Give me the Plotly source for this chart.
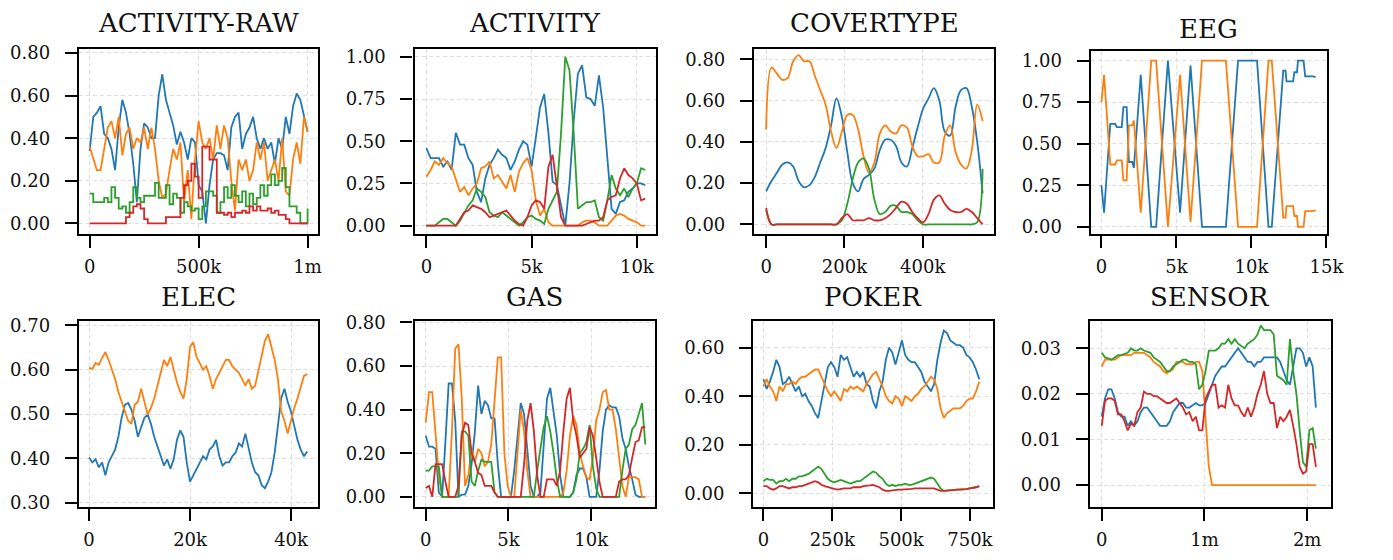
import numpy as np
import plotly.graph_objects as go

# ---------------- data ----------------
BLUE, ORANGE, GREEN, RED = "#1f77b4", "#ff7f0e", "#2ca02c", "#d62728"

titles = ["ACTIVITY-RAW", "ACTIVITY", "COVERTYPE", "EEG", "ELEC", "GAS", "POKER", "SENSOR"]

# ACTIVITY-RAW (x: 0 .. 1m)
actraw_end = 1.0e6
actraw_blue = [0.34, 0.50, 0.52, 0.55, 0.42, 0.40, 0.35, 0.25, 0.45, 0.58, 0.52, 0.42, 0.28, 0.10, 0.35,
               0.47, 0.45, 0.40, 0.40, 0.60, 0.70, 0.58, 0.52, 0.46, 0.37, 0.43, 0.38, 0.30, 0.40, 0.38,
               0.18, 0.15, 0.00, 0.18, 0.30, 0.33, 0.33, 0.32, 0.25, 0.45, 0.50, 0.52, 0.35, 0.42, 0.45,
               0.50, 0.40, 0.35, 0.40, 0.35, 0.38, 0.28, 0.40, 0.35, 0.50, 0.42, 0.55, 0.61, 0.58, 0.50, 0.43]
actraw_orange = [0.36, 0.30, 0.25, 0.25, 0.36, 0.45, 0.48, 0.40, 0.50, 0.32, 0.42, 0.45, 0.35, 0.40, 0.38,
                 0.45, 0.35, 0.45, 0.35, 0.20, 0.12, 0.14, 0.25, 0.35, 0.30, 0.38, 0.10, 0.25, 0.02, 0.30,
                 0.48, 0.38, 0.35, 0.40, 0.30, 0.46, 0.35, 0.46, 0.40, 0.20, 0.06, 0.30, 0.25, 0.30, 0.20,
                 0.25, 0.38, 0.30, 0.38, 0.20, 0.25, 0.30, 0.20, 0.40, 0.15, 0.13, 0.30, 0.38, 0.28, 0.50, 0.43]
actraw_green = [0.14, 0.10, 0.10, 0.10, 0.12, 0.10, 0.17, 0.12, 0.07, 0.08, 0.05, 0.10, 0.17, 0.12, 0.10,
                0.13, 0.13, 0.13, 0.19, 0.12, 0.12, 0.18, 0.09, 0.14, 0.12, 0.05, 0.10, 0.08, 0.06, 0.07,
                0.02, 0.08, 0.15, 0.15, 0.13, 0.05, 0.10, 0.17, 0.12, 0.18, 0.13, 0.10, 0.15, 0.08, 0.14,
                0.09, 0.12, 0.18, 0.13, 0.18, 0.23, 0.18, 0.20, 0.26, 0.17, 0.08, 0.08, 0.05, 0.00, 0.00, 0.07]
actraw_red = [0.00, 0.00, 0.00, 0.00, 0.00, 0.00, 0.00, 0.00, 0.00, 0.00, 0.03, 0.05, 0.08, 0.09, 0.07,
              0.02, 0.00, 0.00, 0.00, 0.00, 0.00, 0.03, 0.03, 0.03, 0.03, 0.12, 0.18, 0.20, 0.28, 0.22,
              0.12, 0.36, 0.36, 0.30, 0.30, 0.05, 0.05, 0.04, 0.05, 0.03, 0.05, 0.05, 0.06, 0.05, 0.08,
              0.06, 0.08, 0.06, 0.06, 0.07, 0.05, 0.06, 0.04, 0.04, 0.02, 0.00, 0.00, 0.00, 0.00, 0.00, 0.00]

# ACTIVITY (x: 0 .. 10.4k)
act_end = 10.4e3
act_blue = [0.46, 0.40, 0.40, 0.40, 0.35, 0.38, 0.33, 0.55, 0.48, 0.48, 0.40, 0.36, 0.20, 0.14, 0.28,
            0.36, 0.40, 0.45, 0.42, 0.40, 0.33, 0.38, 0.45, 0.50, 0.48, 0.35, 0.52, 0.70, 0.78, 0.55,
            0.26, 0.24, 0.12, 0.00, 0.25, 0.62, 0.90, 0.95, 0.76, 0.75, 0.71, 0.89, 0.70, 0.40, 0.10,
            0.07, 0.14, 0.15, 0.20, 0.22, 0.25, 0.25, 0.24]
act_orange = [0.29, 0.33, 0.38, 0.36, 0.40, 0.37, 0.35, 0.27, 0.20, 0.23, 0.18, 0.22, 0.25, 0.34, 0.35,
              0.38, 0.28, 0.30, 0.26, 0.22, 0.30, 0.20, 0.32, 0.37, 0.40, 0.33, 0.15, 0.06, 0.10, 0.02,
              0.00, 0.00, 0.00, 0.00, 0.00, 0.00, 0.00, 0.02, 0.03, 0.03, 0.02, 0.00, 0.00, 0.00, 0.03,
              0.06, 0.07, 0.06, 0.04, 0.03, 0.02, 0.00, 0.00]
act_green = [0.00, 0.00, 0.00, 0.02, 0.04, 0.04, 0.02, 0.00, 0.03, 0.08, 0.12, 0.15, 0.22, 0.20, 0.17,
             0.08, 0.06, 0.05, 0.08, 0.06, 0.04, 0.02, 0.00, 0.02, 0.05, 0.06, 0.04, 0.03, 0.01, 0.10,
             0.15, 0.20, 0.55, 1.00, 0.92, 0.55, 0.10, 0.12, 0.14, 0.14, 0.15, 0.05, 0.03, 0.15, 0.30,
             0.22, 0.18, 0.22, 0.17, 0.22, 0.25, 0.34, 0.33]
act_red = [0.00, 0.00, 0.00, 0.00, 0.00, 0.00, 0.00, 0.00, 0.04, 0.08, 0.09, 0.12, 0.11, 0.10, 0.08,
           0.05, 0.06, 0.07, 0.08, 0.09, 0.06, 0.03, 0.01, 0.00, 0.05, 0.12, 0.15, 0.14, 0.10, 0.35,
           0.42, 0.25, 0.05, 0.00, 0.00, 0.00, 0.00, 0.00, 0.01, 0.02, 0.03, 0.03, 0.05, 0.15, 0.17,
           0.18, 0.28, 0.34, 0.30, 0.28, 0.25, 0.15, 0.16]

# COVERTYPE (x: 0 .. 553k)
cov_end = 553e3
cov_blue = [0.16, 0.21, 0.25, 0.29, 0.30, 0.28, 0.21, 0.18, 0.19, 0.23, 0.30, 0.37, 0.48, 0.61, 0.52,
            0.35, 0.20, 0.16, 0.22, 0.24, 0.27, 0.36, 0.41, 0.41, 0.38, 0.30, 0.28, 0.37, 0.47, 0.56,
            0.61, 0.66, 0.60, 0.45, 0.43, 0.57, 0.65, 0.66, 0.57, 0.40, 0.15]
cov_orange = [0.46, 0.76, 0.73, 0.70, 0.71, 0.79, 0.82, 0.79, 0.79, 0.72, 0.65, 0.58, 0.45, 0.37, 0.45,
              0.53, 0.53, 0.46, 0.33, 0.25, 0.30, 0.44, 0.48, 0.45, 0.44, 0.48, 0.47, 0.38, 0.33, 0.33,
              0.34, 0.30, 0.30, 0.43, 0.48, 0.35, 0.29, 0.27, 0.36, 0.58, 0.50]
cov_green = [0.07, 0.00, 0.00, 0.00, 0.00, 0.00, 0.00, 0.00, 0.00, 0.00, 0.00, 0.00, 0.00, 0.00, 0.02,
             0.10, 0.22, 0.30, 0.32, 0.27, 0.12, 0.05, 0.06, 0.09, 0.09, 0.06, 0.06, 0.05, 0.02, 0.00,
             0.00, 0.00, 0.00, 0.00, 0.00, 0.00, 0.00, 0.00, 0.00, 0.01, 0.27]
cov_red = [0.08, 0.00, 0.00, 0.00, 0.00, 0.00, 0.00, 0.00, 0.00, 0.00, 0.00, 0.00, 0.00, 0.00, 0.03,
           0.05, 0.02, 0.02, 0.02, 0.03, 0.02, 0.02, 0.03, 0.05, 0.08, 0.11, 0.10, 0.06, 0.03, 0.01,
           0.05, 0.12, 0.14, 0.10, 0.07, 0.06, 0.06, 0.075, 0.06, 0.03, 0.00]

# EEG (explicit sample positions)
eeg_x = [0, 175, 590, 917, 1026, 1354, 1463, 1681, 1834, 2052, 2162, 2620, 3319, 3646, 4432, 5240,
         5939, 6703, 8297, 9105, 10371, 11135, 11354, 12009, 12118, 12271, 12336, 12773, 12860, 13035,
         13100, 13471, 13581, 14127, 14280]
eeg_blue = [0.25, 0.085, 0.62, 0.62, 0.60, 0.60, 0.72, 0.72, 0.39, 0.39, 0.355, 0.915, 0.0, 0.0, 1.0,
            0.085, 0.97, 0.0, 0.0, 1.0, 1.0, 0.0, 0.0, 0.86, 0.94, 0.94, 0.875, 0.875, 0.93, 0.93,
            1.0, 1.0, 0.905, 0.905, 0.90]
eeg_orange = [0.75, 0.915, 0.375, 0.375, 0.40, 0.40, 0.28, 0.28, 0.61, 0.61, 0.64, 0.085, 1.0, 1.0, 0.0,
              0.915, 0.03, 1.0, 1.0, 0.0, 0.0, 1.0, 1.0, 0.16, 0.055, 0.055, 0.125, 0.125, 0.065, 0.065,
              0.0, 0.0, 0.095, 0.095, 0.10]

# ELEC (x: 0 .. 43.2k)
elec_end = 43.2e3
elec_orange = [0.604, 0.602, 0.615, 0.611, 0.626, 0.640, 0.622, 0.600, 0.579, 0.550,
               0.528, 0.510, 0.485, 0.478, 0.521, 0.528, 0.557, 0.528, 0.499, 0.514,
               0.535, 0.564, 0.593, 0.622, 0.608, 0.629, 0.600, 0.571, 0.550, 0.535,
               0.579, 0.651, 0.662, 0.629, 0.615, 0.600, 0.608, 0.586, 0.557, 0.579,
               0.593, 0.608, 0.622, 0.622, 0.608, 0.600, 0.593, 0.579, 0.564, 0.579,
               0.557, 0.564, 0.600, 0.636, 0.665, 0.680, 0.651, 0.622, 0.579, 0.506,
               0.485, 0.456, 0.485, 0.514, 0.535, 0.564, 0.586, 0.590]
elec_blue = [0.402, 0.391, 0.398, 0.380, 0.391, 0.362, 0.391, 0.405, 0.420, 0.449,
             0.492, 0.521, 0.525, 0.510, 0.485, 0.449, 0.470, 0.492, 0.499, 0.478,
             0.449, 0.427, 0.405, 0.384, 0.398, 0.377, 0.398, 0.442, 0.463, 0.449,
             0.391, 0.348, 0.362, 0.377, 0.391, 0.405, 0.398, 0.420, 0.427, 0.442,
             0.405, 0.384, 0.391, 0.391, 0.405, 0.413, 0.434, 0.427, 0.456, 0.420,
             0.391, 0.369, 0.362, 0.340, 0.333, 0.348, 0.369, 0.413, 0.470, 0.535,
             0.557, 0.528, 0.506, 0.470, 0.442, 0.420, 0.405, 0.416]

# GAS (x: 0 .. 13.27k)
gas_end = 13.27e3
gas_blue = [0.28, 0.23, 0.23, 0.22, 0.02, 0.00, 0.25, 0.52, 0.52, 0.35,
            0.00, 0.01, 0.01, 0.05, 0.15, 0.30, 0.51, 0.38, 0.44, 0.42,
            0.36, 0.36, 0.15, 0.00, 0.00, 0.00, 0.00, 0.12, 0.28, 0.43,
            0.38, 0.22, 0.05, 0.00, 0.00, 0.02, 0.25, 0.45, 0.50, 0.40,
            0.28, 0.10, 0.00, 0.00, 0.00, 0.02, 0.10, 0.13, 0.13, 0.09,
            0.00, 0.00, 0.00, 0.12, 0.30, 0.40, 0.42, 0.41, 0.41, 0.37,
            0.27, 0.22, 0.14, 0.08, 0.01, 0.00, 0.00, 0.00]
gas_orange = [0.34, 0.48, 0.48, 0.30, 0.10, 0.00, 0.00, 0.00, 0.30, 0.68,
              0.70, 0.45, 0.05, 0.10, 0.22, 0.16, 0.22, 0.20, 0.14, 0.16,
              0.24, 0.45, 0.64, 0.64, 0.20, 0.05, 0.00, 0.00, 0.22, 0.40,
              0.30, 0.12, 0.00, 0.00, 0.00, 0.00, 0.00, 0.00, 0.00, 0.00,
              0.00, 0.00, 0.02, 0.12, 0.28, 0.37, 0.33, 0.20, 0.14, 0.09,
              0.08, 0.18, 0.35, 0.40, 0.48, 0.49, 0.40, 0.40, 0.31, 0.18,
              0.05, 0.00, 0.09, 0.09, 0.09, 0.08, 0.00, 0.00]
gas_green = [0.12, 0.12, 0.14, 0.14, 0.14, 0.00, 0.00, 0.00, 0.00, 0.00,
             0.00, 0.30, 0.30, 0.28, 0.07, 0.05, 0.12, 0.17, 0.16, 0.16,
             0.16, 0.02, 0.00, 0.00, 0.00, 0.00, 0.00, 0.00, 0.00, 0.00,
             0.00, 0.00, 0.00, 0.00, 0.12, 0.22, 0.32, 0.37, 0.30, 0.20,
             0.08, 0.00, 0.00, 0.00, 0.00, 0.02, 0.08, 0.20, 0.22, 0.25,
             0.33, 0.14, 0.04, 0.00, 0.00, 0.00, 0.00, 0.00, 0.00, 0.00,
             0.12, 0.22, 0.24, 0.31, 0.33, 0.38, 0.43, 0.24]
gas_red = [0.04, 0.05, 0.00, 0.15, 0.15, 0.15, 0.07, 0.00, 0.00, 0.00,
           0.05, 0.28, 0.34, 0.33, 0.20, 0.16, 0.11, 0.10, 0.05, 0.05,
           0.05, 0.02, 0.00, 0.00, 0.00, 0.00, 0.00, 0.00, 0.00, 0.00,
           0.15, 0.35, 0.43, 0.30, 0.10, 0.00, 0.00, 0.08, 0.08, 0.08,
           0.05, 0.12, 0.30, 0.45, 0.50, 0.35, 0.28, 0.18, 0.20, 0.22,
           0.32, 0.28, 0.18, 0.07, 0.00, 0.00, 0.00, 0.00, 0.00, 0.07,
           0.08, 0.08, 0.10, 0.18, 0.25, 0.26, 0.32, 0.32]

# POKER (x: 0 .. 784k)
poker_end = 784e3
poker_blue = [0.47, 0.43, 0.46, 0.50, 0.55, 0.52, 0.45, 0.46, 0.48, 0.45,
              0.42, 0.44, 0.40, 0.41, 0.38, 0.36, 0.33, 0.31, 0.38, 0.45,
              0.52, 0.54, 0.52, 0.48, 0.57, 0.55, 0.56, 0.52, 0.48, 0.50,
              0.48, 0.50, 0.45, 0.44, 0.38, 0.35, 0.42, 0.46, 0.55, 0.60,
              0.58, 0.53, 0.58, 0.63, 0.57, 0.55, 0.54, 0.54, 0.52, 0.50,
              0.46, 0.44, 0.42, 0.45, 0.55, 0.62, 0.67, 0.66, 0.63, 0.62,
              0.61, 0.61, 0.60, 0.57, 0.56, 0.54, 0.51, 0.47]
poker_orange = [0.44, 0.47, 0.44, 0.42, 0.38, 0.44, 0.42, 0.45, 0.45, 0.46,
                0.45, 0.47, 0.48, 0.48, 0.49, 0.50, 0.51, 0.51, 0.48, 0.45,
                0.42, 0.40, 0.42, 0.40, 0.38, 0.43, 0.42, 0.44, 0.43, 0.44,
                0.43, 0.42, 0.45, 0.47, 0.49, 0.50, 0.47, 0.44, 0.40, 0.38,
                0.37, 0.40, 0.39, 0.36, 0.40, 0.39, 0.38, 0.40, 0.41, 0.43,
                0.44, 0.46, 0.48, 0.47, 0.43, 0.35, 0.31, 0.33, 0.34, 0.35,
                0.35, 0.35, 0.36, 0.38, 0.39, 0.39, 0.42, 0.46]
poker_green = [0.05, 0.06, 0.055, 0.055, 0.04, 0.05, 0.05, 0.06, 0.05, 0.06,
               0.06, 0.07, 0.07, 0.075, 0.08, 0.09, 0.10, 0.11, 0.10, 0.08,
               0.06, 0.05, 0.045, 0.05, 0.055, 0.05, 0.045, 0.04, 0.045, 0.05,
               0.05, 0.06, 0.07, 0.08, 0.09, 0.085, 0.07, 0.06, 0.04, 0.03,
               0.035, 0.03, 0.035, 0.035, 0.04, 0.035, 0.035, 0.04, 0.045, 0.05,
               0.055, 0.06, 0.065, 0.06, 0.04, 0.02, 0.01, 0.01, 0.012, 0.013,
               0.015, 0.015, 0.015, 0.017, 0.02, 0.022, 0.025, 0.03]
poker_red = [0.03, 0.03, 0.02, 0.015, 0.02, 0.03, 0.03, 0.025, 0.02, 0.025,
             0.025, 0.03, 0.03, 0.035, 0.04, 0.045, 0.05, 0.045, 0.035, 0.03,
             0.025, 0.02, 0.018, 0.015, 0.018, 0.02, 0.02, 0.02, 0.025, 0.025,
             0.025, 0.03, 0.03, 0.033, 0.035, 0.03, 0.025, 0.015, 0.01, 0.01,
             0.012, 0.015, 0.015, 0.015, 0.015, 0.015, 0.018, 0.02, 0.02, 0.022,
             0.022, 0.022, 0.02, 0.02, 0.015, 0.01, 0.01, 0.012, 0.013, 0.013,
             0.015, 0.015, 0.015, 0.017, 0.02, 0.022, 0.025, 0.03]

# SENSOR (x: 0 .. 2.085m)
sensor_end = 2.085e6
sensor_blue = [0.015, 0.019, 0.021, 0.021, 0.019, 0.016, 0.015, 0.015, 0.013, 0.014,
               0.013, 0.014, 0.016, 0.017, 0.017, 0.016, 0.015, 0.014, 0.013, 0.013,
               0.013, 0.014, 0.016, 0.017, 0.018, 0.018, 0.017, 0.017, 0.0175, 0.018,
               0.0175, 0.0175, 0.018, 0.020, 0.022, 0.024, 0.025, 0.026, 0.026, 0.027,
               0.028, 0.029, 0.030, 0.029, 0.028, 0.027, 0.027, 0.026, 0.027, 0.027,
               0.028, 0.028, 0.028, 0.028, 0.028, 0.027, 0.025, 0.023, 0.022, 0.026,
               0.030, 0.030, 0.029, 0.026, 0.028, 0.026, 0.017]
sensor_orange = [0.026, 0.0275, 0.0275, 0.0275, 0.0275, 0.028, 0.0285, 0.0285, 0.0285, 0.0285,
                 0.029, 0.029, 0.029, 0.029, 0.0285, 0.028, 0.027, 0.0265, 0.026, 0.025,
                 0.0245, 0.025, 0.0255, 0.027, 0.027, 0.027, 0.0265, 0.0265, 0.0265, 0.027,
                 0.027, 0.025, 0.014, 0.004, 0.0, 0.0, 0.0, 0.0, 0.0, 0.0,
                 0.0, 0.0, 0.0, 0.0, 0.0, 0.0, 0.0, 0.0, 0.0, 0.0,
                 0.0, 0.0, 0.0, 0.0, 0.0, 0.0, 0.0, 0.0, 0.0, 0.0,
                 0.0, 0.0, 0.0, 0.0, 0.0, 0.0, 0.0]
sensor_green = [0.029, 0.028, 0.0278, 0.0275, 0.028, 0.0285, 0.0285, 0.0288, 0.029, 0.030,
                0.0295, 0.0295, 0.030, 0.0295, 0.0293, 0.029, 0.028, 0.0275, 0.027, 0.026,
                0.025, 0.025, 0.026, 0.0265, 0.027, 0.0275, 0.0275, 0.027, 0.027, 0.0265,
                0.021, 0.022, 0.025, 0.0295, 0.0295, 0.0295, 0.030, 0.031, 0.031, 0.032,
                0.031, 0.032, 0.031, 0.0305, 0.030, 0.031, 0.0315, 0.032, 0.033, 0.035,
                0.034, 0.034, 0.034, 0.033, 0.024, 0.0235, 0.023, 0.022, 0.032, 0.025,
                0.020, 0.012, 0.005, 0.004, 0.012, 0.0125, 0.008]
sensor_red = [0.013, 0.0185, 0.019, 0.019, 0.0185, 0.0155, 0.0155, 0.014, 0.012, 0.0135,
              0.013, 0.016, 0.017, 0.0205, 0.020, 0.020, 0.0195, 0.0195, 0.019, 0.0185,
              0.018, 0.018, 0.0185, 0.019, 0.018, 0.017, 0.0155, 0.016, 0.014, 0.015,
              0.012, 0.012, 0.019, 0.0205, 0.022, 0.022, 0.017, 0.0175, 0.017, 0.022,
              0.019, 0.0175, 0.0175, 0.016, 0.015, 0.017, 0.015, 0.017, 0.020, 0.022,
              0.025, 0.020, 0.018, 0.018, 0.0125, 0.015, 0.014, 0.015, 0.0165, 0.013,
              0.009, 0.004, 0.0025, 0.003, 0.009, 0.009, 0.004]

# tick labels
xtick_vals = [[0, 5e5, 1e6], [0, 5e3, 1e4], [0, 2e5, 4e5], [0, 5e3, 1e4, 1.5e4],
              [0, 2e4, 4e4], [0, 5e3, 1e4], [0, 2.5e5, 5e5, 7.5e5], [0, 1e6, 2e6]]
xtick_text = [["0", "500k", "1m"], ["0", "5k", "10k"], ["0", "200k", "400k"], ["0", "5k", "10k", "15k"],
              ["0", "20k", "40k"], ["0", "5k", "10k"], ["0", "250k", "500k", "750k"], ["0", "1m", "2m"]]
ytick_vals = [[0, 0.2, 0.4, 0.6, 0.8], [0, 0.25, 0.5, 0.75, 1.0], [0, 0.2, 0.4, 0.6, 0.8],
              [0, 0.25, 0.5, 0.75, 1.0], [0.3, 0.4, 0.5, 0.6, 0.7], [0, 0.2, 0.4, 0.6, 0.8],
              [0, 0.2, 0.4, 0.6], [0, 0.01, 0.02, 0.03]]

# ---------------- figure ----------------
def xs(end, ys):
    return np.linspace(0, end, len(ys))

panel_series = [
    [(xs(actraw_end, actraw_blue), actraw_blue, BLUE, "linear"),
     (xs(actraw_end, actraw_orange), actraw_orange, ORANGE, "linear"),
     (xs(actraw_end, actraw_green), actraw_green, GREEN, "hv"),
     (xs(actraw_end, actraw_red), actraw_red, RED, "hv")],
    [(xs(act_end, act_blue), act_blue, BLUE, "linear"),
     (xs(act_end, act_orange), act_orange, ORANGE, "linear"),
     (xs(act_end, act_green), act_green, GREEN, "linear"),
     (xs(act_end, act_red), act_red, RED, "linear")],
    [(xs(cov_end, cov_blue), cov_blue, BLUE, "spline"),
     (xs(cov_end, cov_orange), cov_orange, ORANGE, "spline"),
     (xs(cov_end, cov_green), cov_green, GREEN, "spline"),
     (xs(cov_end, cov_red), cov_red, RED, "spline")],
    [(eeg_x, eeg_blue, BLUE, "linear"),
     (eeg_x, eeg_orange, ORANGE, "linear")],
    [(xs(elec_end, elec_blue), elec_blue, BLUE, "linear"),
     (xs(elec_end, elec_orange), elec_orange, ORANGE, "linear")],
    [(xs(gas_end, gas_blue), gas_blue, BLUE, "linear"),
     (xs(gas_end, gas_orange), gas_orange, ORANGE, "linear"),
     (xs(gas_end, gas_green), gas_green, GREEN, "linear"),
     (xs(gas_end, gas_red), gas_red, RED, "linear")],
    [(xs(poker_end, poker_blue), poker_blue, BLUE, "linear"),
     (xs(poker_end, poker_orange), poker_orange, ORANGE, "linear"),
     (xs(poker_end, poker_green), poker_green, GREEN, "linear"),
     (xs(poker_end, poker_red), poker_red, RED, "linear")],
    [(xs(sensor_end, sensor_blue), sensor_blue, BLUE, "linear"),
     (xs(sensor_end, sensor_orange), sensor_orange, ORANGE, "linear"),
     (xs(sensor_end, sensor_green), sensor_green, GREEN, "linear"),
     (xs(sensor_end, sensor_red), sensor_red, RED, "linear")],
]

x_ranges = [[-49e3, 1.047e6], [-560, 10930], [-30.6e3, 582e3], [-714, 15010],
            [-2.0e3, 45.3e3], [-673, 13880], [-37.4e3, 834e3], [-0.117e6, 2.228e6]]
y_ranges = [[-0.051, 0.819], [-0.051, 1.047], [-0.048, 0.85], [-0.045, 1.056],
            [0.29, 0.71], [-0.048, 0.807], [-0.0575, 0.71], [-0.00487, 0.036]]

W, H = 1393, 560
# plot-area boxes in pixels: (left, right, top, bottom)
boxes = [(80, 322, 41, 231.5), (420, 665, 41, 231.5), (764, 1007, 41, 231.5), (1105, 1344, 43.5, 231.5),
         (80, 322, 320.5, 512), (420, 664, 320.5, 512), (763, 1006, 320.5, 512), (1104, 1348, 320.5, 512)]
title_shift = [9, 9, 9, 5, 7, 7, 7, 7]

FONT = "DejaVu Serif"
fig = go.Figure()
annotations = []
for k in range(8):
    n = k + 1
    xa = "x" if n == 1 else f"x{n}"
    ya = "y" if n == 1 else f"y{n}"
    for (x, y, col, shape) in panel_series[k]:
        fig.add_trace(go.Scatter(x=x, y=y, mode="lines", xaxis=xa, yaxis=ya,
                                 line=dict(color=col, width=1.8, shape=shape), showlegend=False,
                                 hoverinfo="skip"))
    l, r, t, b = boxes[k]
    common = dict(showline=True, mirror=True, linecolor="black", linewidth=2.4,
                  ticks="outside", ticklen=12, tickwidth=2.4, tickcolor="black",
                  showgrid=True, gridcolor="#dedede", gridwidth=1, griddash="4px,3px",
                  zeroline=False, tickfont=dict(family=FONT, size=18, color="#111"))
    fig.layout[f"xaxis{'' if n == 1 else n}"] = dict(
        domain=[l / W, r / W], range=x_ranges[k], anchor=ya, ticklabelstandoff=3,
        tickmode="array", tickvals=xtick_vals[k], ticktext=xtick_text[k], **common)
    fig.layout[f"yaxis{'' if n == 1 else n}"] = dict(
        domain=[1 - b / H, 1 - t / H], range=y_ranges[k], anchor=xa, ticklabelstandoff=11,
        tickmode="array", tickvals=ytick_vals[k], tickformat=".2f", **common)
    annotations.append(dict(text=titles[k], x=(l + r) / 2 / W, y=1 - t / H, xref="paper", yref="paper",
                            xanchor="center", yanchor="bottom", yshift=title_shift[k], showarrow=False,
                            font=dict(family=FONT, size=26, color="#111")))

fig.update_layout(width=W, height=H, margin=dict(l=0, r=0, t=0, b=0),
                  paper_bgcolor="white", plot_bgcolor="white", annotations=annotations)
fig.write_html("out.html")
